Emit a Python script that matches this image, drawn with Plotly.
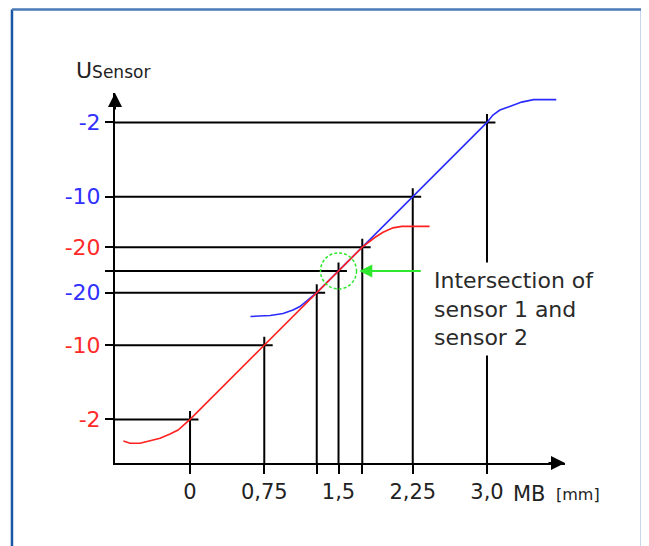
import plotly.graph_objects as go

# ---- data (x in mm, y in sensor-signal units) ----
point_x = [0.0, 0.75, 1.28, 1.5, 1.74, 2.25, 3.0]
point_y = [0.44, 1.19, 1.72, 1.94, 2.18, 2.69, 3.44]
x_labels = ["0", "0,75", "", "1,5", "", "2,25", "3,0"]
y_labels = ["-2", "-10", "-20", "", "-20", "-10", "-2"]
y_label_colors = ["#ff2a2a", "#ff2a2a", "#3030ff", "#000000", "#ff2a2a", "#3030ff", "#3030ff"]

sensor1_x = [-0.673, -0.606, -0.505, -0.404, -0.303, -0.202, -0.121, 0.0, 0.75, 1.28, 1.5, 1.74,
             1.87, 1.95, 2.05, 2.14, 2.42]
sensor1_y = [0.222, 0.199, 0.199, 0.222, 0.249, 0.293, 0.333, 0.44, 1.19, 1.72, 1.94, 2.18,
             2.28, 2.33, 2.375, 2.39, 2.39]

sensor2_x = [0.61, 0.81, 0.94, 1.04, 1.11, 1.19, 1.28, 1.5, 1.74, 2.25, 3.0,
             3.06, 3.13, 3.23, 3.35, 3.47, 3.70]
sensor2_y = [1.48, 1.49, 1.51, 1.545, 1.58, 1.645, 1.72, 1.94, 2.18, 2.69, 3.44,
             3.515, 3.565, 3.60, 3.645, 3.67, 3.67]

intersection_index = 3

# ---- styles ----
RED = "#ff2020"
BLUE = "#2b2bff"
GREEN = "#2ee82e"
FONT = "DejaVu Sans"
X_RANGE = [-0.758, 3.788]
Y_RANGE = [0.0, 3.737]
OVER = 0.085

fig = go.Figure()

# guide lines (crosses at each marked point)
gx, gy = [], []
for xi, yi in zip(point_x, point_y):
    gx += [X_RANGE[0], xi + OVER, None]
    gy += [yi, yi, None]
    gx += [xi, xi, None]
    gy += [Y_RANGE[0], yi + OVER, None]
fig.add_trace(go.Scatter(x=gx, y=gy, mode="lines", line=dict(color="black", width=2),
                         hoverinfo="skip"))

fig.add_trace(go.Scatter(x=sensor2_x, y=sensor2_y, mode="lines",
                         line=dict(color=BLUE, width=1.6), name="sensor 2"))
fig.add_trace(go.Scatter(x=sensor1_x, y=sensor1_y, mode="lines",
                         line=dict(color=RED, width=1.6), name="sensor 1"))

ix = point_x[intersection_index]
iy = point_y[intersection_index]
r = 0.182
fig.add_shape(type="circle", xref="x", yref="y", x0=ix - r, x1=ix + r, y0=iy - r, y1=iy + r,
              line=dict(color=GREEN, width=1.5, dash="3px,2px"))

# frame
BL, BR, BT, BB = 0.0062, 0.9891, 0.9972, -0.05
fig.add_shape(type="line", xref="paper", yref="paper", x0=BL, x1=BL, y0=BB, y1=BT,
              line=dict(color="#1a56a6", width=2.5))
fig.add_shape(type="line", xref="paper", yref="paper", x0=BR, x1=BR, y0=BB, y1=BT,
              line=dict(color="#1a56a6", width=2.5))
fig.add_shape(type="line", xref="paper", yref="paper", x0=BL, x1=BR, y0=BT, y1=BT,
              line=dict(color="#4a7ab5", width=2.5))

ytick_text = [f"<span style='color:{c}'>{t}</span>" for t, c in zip(y_labels, y_label_colors)]

fig.update_layout(
    width=641, height=538, autosize=False,
    margin=dict(l=0, r=0, t=0, b=0, autoexpand=False),
    paper_bgcolor="white", plot_bgcolor="white", showlegend=False,
    font=dict(family=FONT, size=21, color="#222222"),
    xaxis=dict(domain=[0.16693, 0.86895], range=X_RANGE, showgrid=False, zeroline=False,
               showline=True, automargin=False,
               linecolor="black", linewidth=2, ticks="outside", ticklen=9, tickwidth=2,
               tickcolor="black", tickvals=point_x, ticktext=x_labels,
               tickfont=dict(family=FONT, size=21, color="#222222")),
    yaxis=dict(domain=[0.15428, 0.84201], range=Y_RANGE, showgrid=False, zeroline=False,
               showline=True, automargin=False,
               linecolor="black", linewidth=2, ticks="outside", ticklen=8, tickwidth=2,
               tickcolor="black", tickvals=point_y, ticktext=ytick_text,
               tickfont=dict(family=FONT, size=22)),
)

# axis arrowheads
fig.add_annotation(x=X_RANGE[1], y=0, xref="x", yref="y", ax=-18, ay=0, text="",
                   showarrow=True, arrowhead=2, arrowsize=1.4, arrowwidth=2, arrowcolor="black")
fig.add_annotation(x=X_RANGE[0], y=Y_RANGE[1], xref="x", yref="y", ax=0, ay=18, text="",
                   showarrow=True, arrowhead=2, arrowsize=1.4, arrowwidth=2, arrowcolor="black")

# green arrow pointing at intersection
fig.add_annotation(x=ix + 0.21, y=iy, xref="x", yref="y", ax=63, ay=0, text="",
                   showarrow=True, arrowhead=2, arrowsize=1.3, arrowwidth=2, arrowcolor=GREEN)

fig.add_annotation(x=2.404, y=2.035, xref="x", yref="y", xanchor="left", yanchor="top",
                   text="Intersection of<br>sensor 1 and<br>sensor 2", align="left",
                   showarrow=False, bgcolor="white", borderpad=5,
                   font=dict(family=FONT, size=22, color="#2a2a2a"))

fig.add_annotation(x=0.1030, y=0.8829, xref="paper", yref="paper", xanchor="left",
                   yanchor="middle", showarrow=False,
                   text="U<span style='font-size:17px'>Sensor</span>",
                   font=dict(family=FONT, size=22, color="#222222"))
fig.add_annotation(x=0.7847, y=0.0967, xref="paper", yref="paper", xanchor="left",
                   yanchor="middle", showarrow=False, text="MB",
                   font=dict(family=FONT, size=21, color="#222222"))
fig.add_annotation(x=0.8520, y=0.0950, xref="paper", yref="paper", xanchor="left",
                   yanchor="middle", showarrow=False, text="[mm]",
                   font=dict(family=FONT, size=16, color="#222222"))

fig.write_html("out.html")
